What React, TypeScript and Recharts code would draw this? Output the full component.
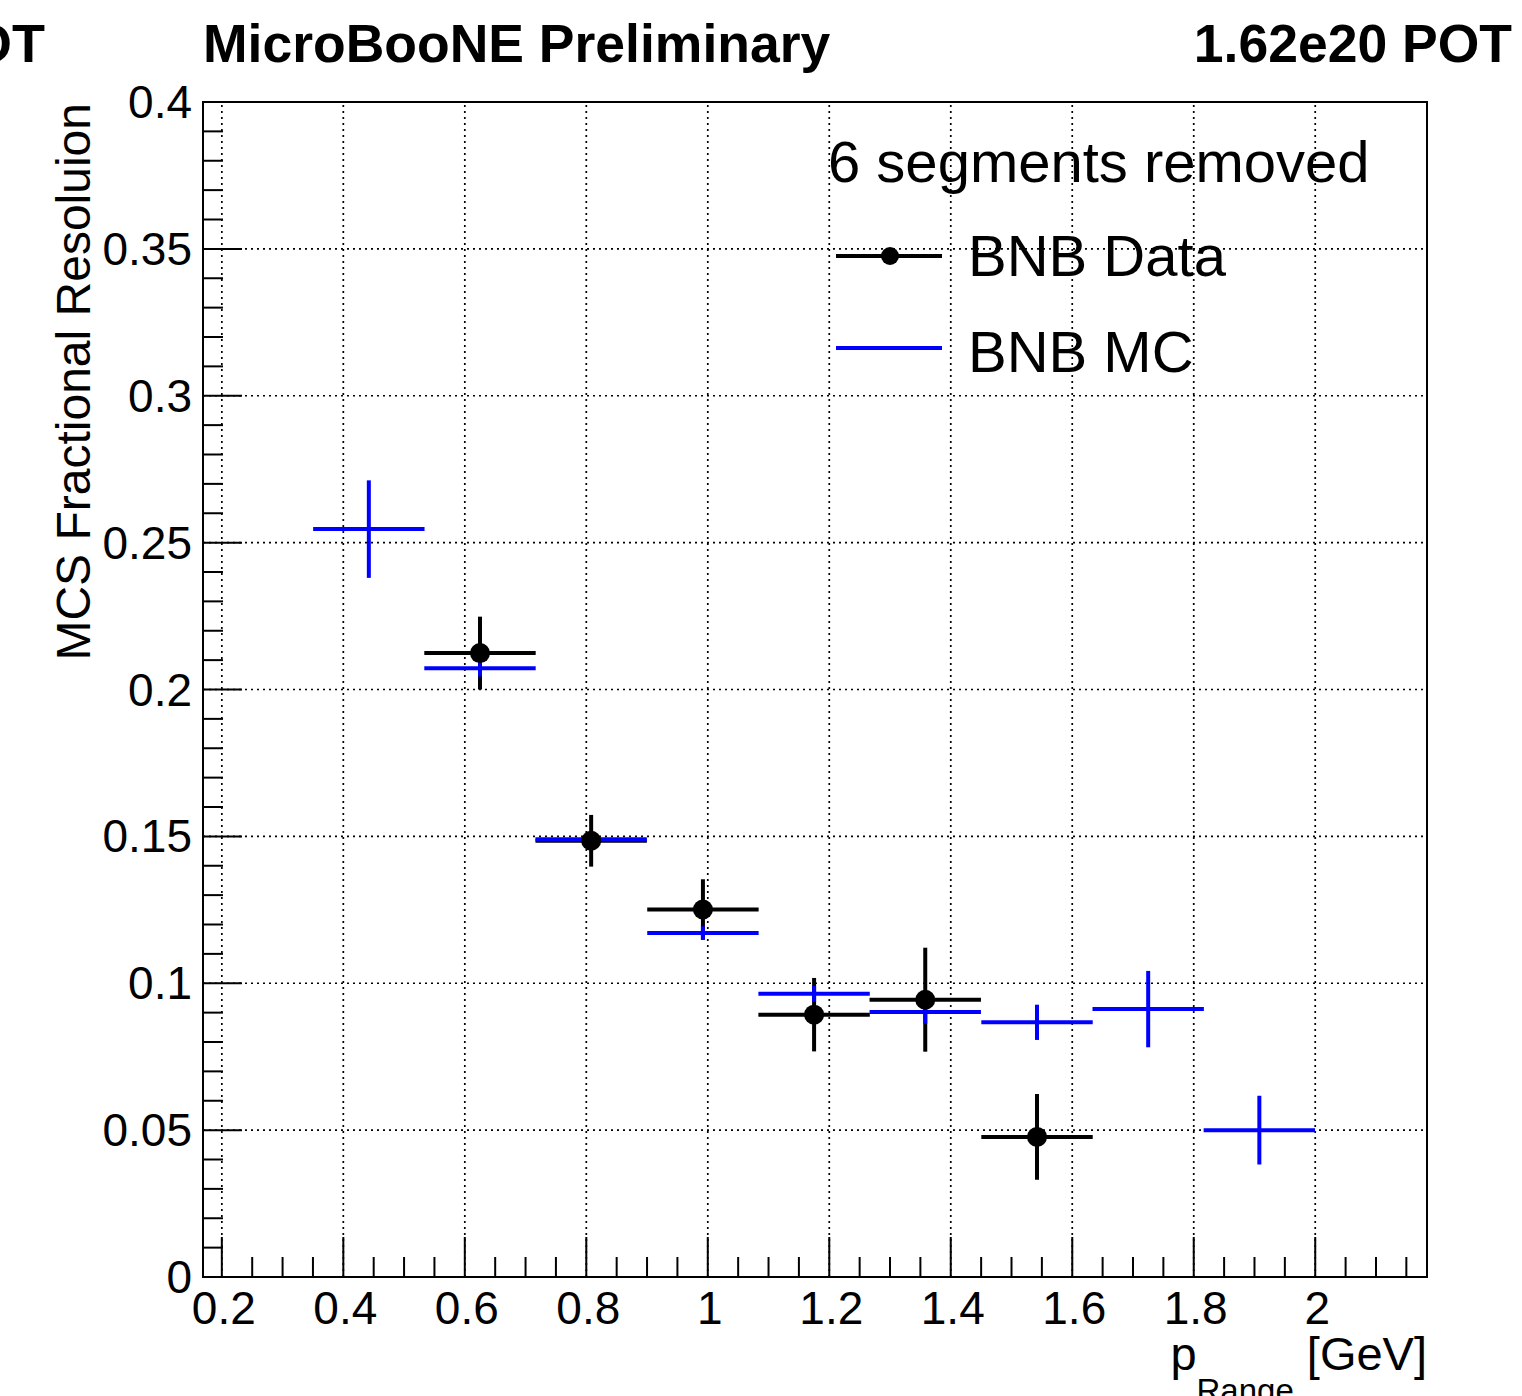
import React from "react";
import {
  ComposedChart,
  Scatter,
  ErrorBar,
  XAxis,
  YAxis,
  ReferenceLine,
  ReferenceArea,
  Legend,
} from "recharts";

const FONT = "'Liberation Sans', Arial, Helvetica, sans-serif";

// bins of p_Range (GeV): centres and half widths
const binCenters = [0.442, 0.625, 0.808, 0.992, 1.175, 1.358, 1.542, 1.725, 1.908];
const binHalfWidths = [0.0917, 0.0917, 0.0917, 0.0917, 0.0917, 0.0917, 0.0917, 0.0917, 0.0917];

// BNB MC
const mcValues = [0.2546, 0.2072, 0.149, 0.1171, 0.0964, 0.0902, 0.0867, 0.0912, 0.0500];
const mcErrors = [0.0166, 0.0028, 0.002, 0.0023, 0.0027, 0.004, 0.006, 0.013, 0.0117];

// BNB Data (no entries in first and last two bins)
const dataValues = [null, 0.2124, 0.1485, 0.1251, 0.0893, 0.0944, 0.0477, null, null];
const dataErrors = [null, 0.0124, 0.0088, 0.0103, 0.0125, 0.0177, 0.0146, null, null];

const xMajorTicks = [0.2, 0.4, 0.6, 0.8, 1, 1.2, 1.4, 1.6, 1.8, 2];
const yMajorTicks = [0, 0.05, 0.1, 0.15, 0.2, 0.25, 0.3, 0.35, 0.4];
const xDomain = [0.169, 2.184];
const yDomain = [0, 0.4];

const round = (v: number) => Math.round(v * 1000) / 1000;
// minor ticks every 0.05 on x, every 0.01 on y
const xTicks = Array.from({ length: 40 }, (_, i) => round(0.2 + i * 0.05));
const yTicks = Array.from({ length: 41 }, (_, i) => round(i * 0.01));

const isMajor = (v: number, majors: number[]) => majors.some((m) => Math.abs(m - v) < 1e-6);

const mcPoints = binCenters.map((x, i) => ({
  x,
  y: mcValues[i],
  ex: binHalfWidths[i],
  ey: mcErrors[i],
}));

const dataPoints = binCenters
  .map((x, i) => ({ x, y: dataValues[i], ex: binHalfWidths[i], ey: dataErrors[i] }))
  .filter((p) => p.y !== null);

function XTick(props: any) {
  const { x, y, payload } = props;
  const v = payload.value as number;
  const major = isMajor(v, xMajorTicks);
  return (
    <g>
      <line x1={x} x2={x} y1={y} y2={y - (major ? 40 : 20)} stroke="#000" strokeWidth={2} />
      {major && (
        <text x={x + 2} y={y + 47} textAnchor="middle" fontSize={46} fontFamily={FONT} fill="#000">
          {String(v)}
        </text>
      )}
    </g>
  );
}

function YTick(props: any) {
  const { x, y, payload } = props;
  const v = payload.value as number;
  const major = isMajor(v, yMajorTicks);
  return (
    <g>
      <line x1={x} x2={x + (major ? 39 : 20)} y1={y} y2={y} stroke="#000" strokeWidth={2} />
      {major && (
        <text x={x - 11} y={y + 16} textAnchor="end" fontSize={46} fontFamily={FONT} fill="#000">
          {String(v)}
        </text>
      )}
    </g>
  );
}

function LegendBox() {
  return (
    <svg width={620} height={280} style={{ display: "block" }}>
      <text x={8} y={62} fontSize={58} fontFamily={FONT} fill="#000">
        6 segments removed
      </text>
      <line x1={16} x2={122} y1={136} y2={136} stroke="#000" strokeWidth={4} />
      <circle cx={70} cy={136} r={9} fill="#000" />
      <text x={148} y={156} fontSize={58} fontFamily={FONT} fill="#000">
        BNB Data
      </text>
      <line x1={16} x2={122} y1={228} y2={228} stroke="#0000ff" strokeWidth={4} />
      <text x={148} y={252} fontSize={58} fontFamily={FONT} fill="#000">
        BNB MC
      </text>
    </svg>
  );
}

const dataMarker = (props: any) => <circle cx={props.cx} cy={props.cy} r={10} fill="#000" />;
const noMarker = () => <g />;

export default function App() {
  return (
    <div style={{ position: "absolute", left: 0, top: 0, width: 1522, height: 1396, background: "#fff" }}>
      <ComposedChart
        width={1522}
        height={1396}
        margin={{ top: 102, right: 95, bottom: 59, left: 143 }}
      >
        {xMajorTicks.map((v) => (
          <ReferenceLine key={"gx" + v} x={v} stroke="#000" strokeWidth={1.7} strokeDasharray="2 4" />
        ))}
        {yMajorTicks.map((v) => (
          <ReferenceLine key={"gy" + v} y={v} stroke="#000" strokeWidth={1.7} strokeDasharray="2 4" />
        ))}
        <ReferenceArea
          x1={xDomain[0]}
          x2={xDomain[1]}
          y1={yDomain[0]}
          y2={yDomain[1]}
          fill="none"
          fillOpacity={0}
          stroke="#000"
          strokeWidth={2}
        />
        <XAxis
          type="number"
          dataKey="x"
          domain={xDomain}
          allowDataOverflow
          ticks={xTicks}
          interval={0}
          tickSize={0}
          tickMargin={0}
          tickLine={false}
          tick={<XTick />}
          axisLine={{ stroke: "#000", strokeWidth: 2 }}
          height={60}
        />
        <YAxis
          type="number"
          dataKey="y"
          domain={yDomain}
          allowDataOverflow
          ticks={yTicks}
          interval={0}
          tickSize={0}
          tickMargin={0}
          tickLine={false}
          tick={<YTick />}
          axisLine={{ stroke: "#000", strokeWidth: 2 }}
          width={60}
        />
        <Legend
          content={<LegendBox />}
          verticalAlign="middle"
          wrapperStyle={{ left: 820, top: 120, width: 620, height: 280 }}
        />
        <Scatter name="BNB Data" data={dataPoints} fill="#000" shape={dataMarker} isAnimationActive={false}>
          <ErrorBar dataKey="ex" direction="x" width={0} stroke="#000" strokeWidth={4} isAnimationActive={false} />
          <ErrorBar dataKey="ey" direction="y" width={0} stroke="#000" strokeWidth={4} isAnimationActive={false} />
        </Scatter>
        <Scatter name="BNB MC" data={mcPoints} fill="#0000ff" shape={noMarker} isAnimationActive={false}>
          <ErrorBar dataKey="ex" direction="x" width={0} stroke="#0000ff" strokeWidth={4} isAnimationActive={false} />
          <ErrorBar dataKey="ey" direction="y" width={0} stroke="#0000ff" strokeWidth={4} isAnimationActive={false} />
        </Scatter>
      </ComposedChart>
      <svg
        width={1522}
        height={1396}
        style={{ position: "absolute", left: 0, top: 0, pointerEvents: "none" }}
      >
        <text x={45} y={62} textAnchor="end" fontSize={54} fontWeight="bold" fontFamily={FONT} fill="#000">
          POT
        </text>
        <text x={203} y={62} fontSize={53.5} fontWeight="bold" fontFamily={FONT} fill="#000">
          MicroBooNE Preliminary
        </text>
        <text x={1512} y={62} textAnchor="end" fontSize={53.5} fontWeight="bold" fontFamily={FONT} fill="#000">
          1.62e20 POT
        </text>
        <text
          x={90}
          y={103}
          transform="rotate(-90 90 103)"
          textAnchor="end"
          fontSize={48}
          fontFamily={FONT}
          fill="#000"
        >
          MCS Fractional Resoluion
        </text>
        <text x={1427} y={1370} textAnchor="end" fontSize={47} fontFamily={FONT} fill="#000">
          p
          <tspan dy={32} fontSize={33}>Range</tspan>
          <tspan dy={-32} fontSize={47}> [GeV]</tspan>
        </text>
      </svg>
    </div>
  );
}
